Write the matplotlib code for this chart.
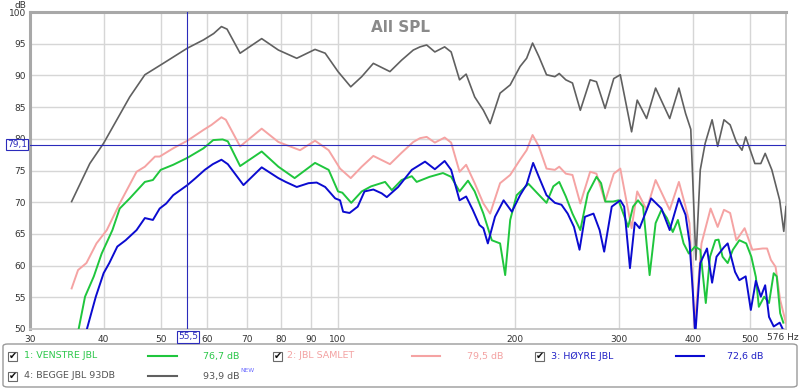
import matplotlib
matplotlib.use("Agg")
import matplotlib.pyplot as plt
from matplotlib.patches import FancyBboxPatch, Rectangle
from matplotlib.lines import Line2D

# ---------------- data ----------------
gray_f = [35.3, 37.9, 40.0, 44.3, 47.0, 50.5, 55.5, 59.1, 61.5, 63.4, 64.8, 68.2, 71.0, 74.2, 79.2, 85.1,
          91.4, 95.1, 100, 105.1, 109.7, 114.8, 122.5, 128.2, 134.2, 137.8, 141.4, 146.0, 151.7, 155.6,
          160.8, 165, 170.6, 176.5, 181.2, 188.4, 196, 203.7, 209, 213.9, 219.2, 225.9, 233.4, 237.4,
          243.6, 250, 257.8, 267.9, 274.6, 284, 293.8, 301.4, 315, 322, 334, 346, 365.6, 379, 389, 397,
          405, 412, 420, 431.5, 441, 452, 463, 474.4, 485, 492, 510, 522, 531, 545, 562, 571, 576]
gray_db = [70.1, 76.1, 79.3, 86.6, 90.1, 91.9, 94.3, 95.6, 96.6, 97.7, 97.3, 93.5, 94.6, 95.8, 94.0, 92.7,
           94.1, 93.5, 90.6, 88.2, 89.8, 91.9, 90.6, 92.4, 94.0, 94.5, 94.8, 93.7, 94.5, 93.7,
           89.3, 90.2, 86.6, 84.5, 82.4, 87.2, 88.5, 91.4, 92.7, 95.1, 93.0, 90.1, 89.8, 90.3,
           89.3, 88.8, 84.5, 89.3, 89.0, 84.8, 89.5, 90.1, 81.1, 86.1, 83.2, 88.0, 83.2, 88.0, 84.0, 81.5,
           60.9, 75.1, 79.3, 83.0, 78.8, 83.0, 82.2, 79.5, 78.2, 80.3, 76.1, 76.1, 77.7, 75.1, 70.3, 65.4, 69.3]

pink_f = [35.3, 36.2, 37.4, 38.9, 40.5, 42.6, 45.5, 47.0, 48.9, 49.8, 52.5, 55.5, 59.1, 61.0, 63.4, 64.5,
          68.2, 74.2, 79.2, 86.2, 91.4, 96.4, 100.8, 105.1, 109.7, 114.8, 122.5, 128.2, 134.2, 137.8,
          141.4, 146, 151.7, 155.6, 160.8, 165, 170.6, 176.5, 181.2, 188.4, 196, 203.7, 209, 213.9,
          219.2, 225.9, 233.4, 237.4, 243.6, 250, 257.8, 267.9, 274.6, 284, 293.8, 301.4, 315, 322,
          334, 346, 365.6, 379, 389, 395, 403, 414, 429, 441, 452, 463, 474.4, 490, 505, 526, 535, 543,
          553, 563, 576]
pink_db = [56.4, 59.3, 60.4, 63.5, 65.6, 69.8, 74.8, 75.6, 77.2, 77.2, 78.5, 79.7, 81.4, 82.2, 83.4, 83.0,
           78.8, 81.6, 79.5, 78.2, 79.7, 78.2, 75.3, 73.8, 75.6, 77.3, 76.0, 77.8, 79.5, 80.1,
           80.3, 79.4, 80.2, 79.4, 74.8, 75.9, 73.0, 69.8, 68.2, 73.0, 74.3, 76.7, 78.2, 80.6,
           78.8, 75.3, 75.1, 75.6, 74.5, 74.3, 69.8, 74.8, 74.5, 70.1, 74.5, 75.3, 65.9, 71.7,
           68.8, 73.5, 68.8, 73.2, 69.3, 66.7, 50.4, 63.5, 69.0, 66.1, 68.8, 68.3, 64.0, 65.9, 62.5, 62.7, 62.7, 60.9,
           59.8, 54.6, 50.9]

green_f = [36.3, 37.2, 38.5, 39.7, 41.4, 42.6, 44.3, 47.0, 48.5, 50.0, 52.5, 55.5, 59.1, 61.4, 63.7, 65.0,
           68.2, 74.2, 79.2, 84.4, 91.4, 96.4, 100, 101.7, 105.3, 109.7, 113.8, 120.2, 123.4, 128.2,
           133.4, 136, 143, 150.7, 155.6, 160.8, 166.2, 170.6, 176.5, 182.4, 188.4, 192.2, 196, 201,
           210.5, 218, 225.9, 232, 237.4, 243.6, 250, 257.8, 265.5, 274.6, 279.6, 284.3, 293, 299.3,
           310.8, 316.8, 323, 329.5, 338, 346, 354, 361.6, 370, 377.5, 386, 394, 403.6, 412, 421, 428,
           437, 442.5, 449.5, 458.6, 468, 480, 493, 503, 512, 518, 529, 539, 549, 555.5, 563, 570]
green_db = [50.1, 55.1, 58.3, 61.9, 65.6, 69.0, 70.6, 73.2, 73.5, 75.1, 75.9, 77.0, 78.5, 79.8, 79.9, 79.6,
            75.7, 78.0, 75.6, 73.8, 76.2, 75.1, 71.7, 71.5, 69.9, 71.7, 72.5, 73.2, 71.9, 73.5,
            74.1, 73.2, 74.0, 74.6, 74.0, 71.7, 73.4, 71.7, 68.2, 64.0, 63.5, 58.5, 67.2, 71.1,
            72.9, 71.4, 69.9, 72.5, 73.2, 70.9, 68.2, 65.6, 71.4, 74.0, 73.0, 70.1, 70.1, 70.3,
            66.1, 69.3, 70.3, 69.3, 58.5, 66.7, 68.8, 67.5, 65.3, 67.2, 63.5, 61.9, 63.0, 62.5, 54.1, 61.4,
            64.0, 64.1, 61.4, 60.4, 62.5, 64.0, 63.5, 61.4, 58.2, 53.5, 55.1, 54.1, 58.8, 58.3, 52.5, 51.0]

blue_f = [37.5, 38.8, 40.0, 40.9, 42.2, 43.6, 45.5, 47.0, 48.5, 49.8, 51.1, 52.5, 55.5, 57.3, 59.4, 61.3,
          63.4, 65.0, 69.1, 74.2, 79.2, 81.5, 85.1, 89.1, 92.0, 95.1, 98.9, 100.8, 102, 104.6, 108,
          110.9, 114.8, 118.6, 121, 126.5, 133.4, 140.5, 146, 151.7, 155.6, 160.8, 165, 169.3, 173.8,
          176.5, 179.6, 184.7, 191, 197.3, 203.7, 209, 214.4, 219.2, 225.9, 233.4, 239.5, 245.4,
          251.5, 257, 262.5, 271.4, 278, 283, 291.5, 301.4, 306, 313, 319, 325, 340, 354, 365.6, 379,
          389, 395, 400, 404, 412, 423, 431.5, 439, 452, 458.6, 472, 480, 492, 502, 512, 522, 531, 539,
          549, 562, 568]
blue_db = [50.1, 55.1, 58.8, 60.4, 63.0, 64.0, 65.6, 67.5, 67.2, 69.0, 69.8, 71.1, 72.7, 73.8, 75.1, 76.0,
           76.7, 76.0, 72.7, 75.5, 73.8, 73.2, 72.4, 73.0, 73.1, 72.4, 70.6, 70.3, 68.5, 68.3, 69.3,
           71.7, 72.0, 71.4, 70.8, 72.4, 75.1, 76.4, 75.2, 76.5, 75.1, 70.3, 70.9, 68.8, 66.4,
           65.9, 63.5, 67.7, 70.3, 68.5, 71.1, 72.8, 76.2, 74.0, 71.1, 69.9, 69.6, 68.2,
           66.1, 62.5, 67.7, 68.2, 65.6, 62.2, 69.3, 70.3, 69.3, 59.6, 66.8, 65.9, 70.6, 69.0, 65.6, 70.6,
           68.0, 63.7, 56.2, 49.0, 60.4, 62.7, 57.3, 61.4, 62.9, 63.5, 59.0, 57.7, 58.3, 53.0, 57.6, 55.1, 56.9, 51.9,
           50.4, 51.0, 50.1]

x_ticks = [30, 40, 50, 60, 70, 80, 90, 100, 200, 300, 400, 500]
x_tick_labels = ["30", "40", "50", "60", "70", "80", "90", "100", "200", "300", "400", "500"]
y_ticks = [50, 55, 60, 65, 70, 75, 80, 85, 90, 95, 100]

cursor_f = 55.5
cursor_db = 79.1

legend_names = ["1: VENSTRE JBL", "2: JBL SAMLET", "3: HØYRE JBL", "4: BEGGE JBL 93DB"]
legend_values = ["76,7 dB", "79,5 dB", "72,6 dB", "93,9 dB"]

# ---------------- style ----------------
c_green = "#1fc63d"
c_pink = "#f5a3a3"
c_blue = "#0b0bd0"
c_gray = "#606060"
c_cursor = "#2b2bbb"

W, H = 800, 389
fig = plt.figure(figsize=(W / 100, H / 100), dpi=100)
fig.patch.set_facecolor("white")

def fx(x):
    return x / W

def fy(y):
    return 1 - y / H

L, R, T, B = 30, 786, 12, 329
ax = fig.add_axes([fx(L), fy(B), (R - L) / W, (B - T) / H])
ax.set_xscale("log")
ax.set_xlim(30, 576)
ax.set_ylim(50, 100)
ax.minorticks_off()
ax.set_xticks(x_ticks)
ax.set_xticklabels(x_tick_labels)
ax.set_yticks(y_ticks)
ax.set_yticklabels([str(v) for v in y_ticks])
ax.tick_params(length=0, labelsize=6.5, colors="#333333", pad=4)
ax.tick_params(axis="y", pad=3)
ax.grid(True, color="#d6d6d6", lw=1.0)
ax.set_axisbelow(True)
for s in ["left", "top"]:
    ax.spines[s].set_color("#a8a8a8")
    ax.spines[s].set_linewidth(2.2)
for s in ["right", "bottom"]:
    ax.spines[s].set_color("#c4c4c4")
    ax.spines[s].set_linewidth(1.3)

ax.plot(gray_f, gray_db, color=c_gray, lw=1.2, solid_joinstyle="round", zorder=3)
ax.plot(pink_f, pink_db, color=c_pink, lw=1.4, solid_joinstyle="round", zorder=4)
ax.plot(green_f, green_db, color=c_green, lw=1.4, solid_joinstyle="round", zorder=5)
ax.plot(blue_f, blue_db, color=c_blue, lw=1.4, solid_joinstyle="round", zorder=6)

ax.axvline(cursor_f, color=c_cursor, lw=0.8, zorder=7)
ax.axhline(cursor_db, color=c_cursor, lw=0.8, zorder=7)

ax.text(0.49, 0.975, "All SPL", transform=ax.transAxes, ha="center", va="top",
        fontsize=11, fontweight="bold", color="#8a8a8a")

# axis unit labels
fig.text(fx(20), fy(5), "dB", fontsize=6.5, color="#333333", ha="center", va="center")
fig.text(fx(799), fy(338), "576 Hz", fontsize=6.5, color="#333333", ha="right", va="center")

# cursor value boxes
box = dict(boxstyle="square,pad=0.15", fc="white", ec=c_cursor, lw=0.8)
fig.text(fx(17), fy(144.5), "79,1", fontsize=6.5, color=c_cursor, ha="center", va="center", bbox=box)
fig.text(fx(188), fy(337), "55,5", fontsize=6.5, color=c_cursor, ha="center", va="center", bbox=box)

# legend panel
panel = FancyBboxPatch((fx(3), fy(387)), fx(794), (387 - 344) / H,
                       boxstyle="round,pad=0,rounding_size=0.006", transform=fig.transFigure,
                       fc="white", ec="#9a9a9a", lw=1.0)
fig.patches.append(panel)

def checkbox(x, y):
    r = Rectangle((fx(x - 4.5), fy(y + 4.5)), 9 / W, 9 / H, transform=fig.transFigure,
                  fc="white", ec="#6a6a6a", lw=0.8)
    fig.patches.append(r)
    fig.text(fx(x + 0.5), fy(y), "\u2714", fontsize=7, color="#111111", ha="center", va="center",
             family="DejaVu Sans")

entries = [
    (12.5, 356, 24, 148, 177, 203, c_green, "#2cc74a"),
    (277, 356, 287, 412, 440, 467, c_pink, "#f3a2a2"),
    (539, 356, 551, 676, 704, 727, c_blue, "#2222c6"),
    (12.5, 376, 24, 148, 177, 203, c_gray, "#555555"),
]
for (cbx, yy, tx, l0, l1, vx, lc, tc), name, val in zip(entries, legend_names, legend_values):
    checkbox(cbx, yy)
    fig.text(fx(tx), fy(yy), name, fontsize=6.8, color=tc, ha="left", va="center")
    fig.add_artist(Line2D([fx(l0), fx(l1)], [fy(yy), fy(yy)], color=lc, lw=1.5,
                          transform=fig.transFigure))
    fig.text(fx(vx), fy(yy), val, fontsize=6.8, color=tc, ha="left", va="center")

fig.text(fx(240), fy(371), "NEW", fontsize=4.3, color="#6b6bff", ha="left", va="center")

fig.savefig("out.png", dpi=100, facecolor="white")
